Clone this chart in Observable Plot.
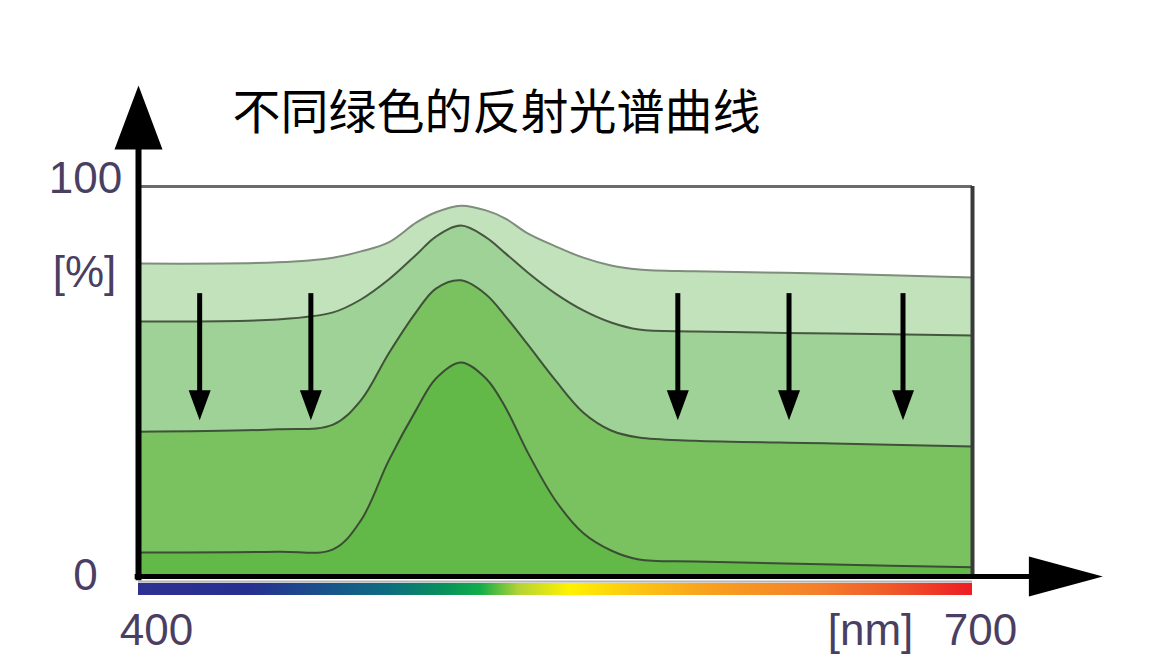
<!DOCTYPE html>
<html>
<head>
<meta charset="utf-8">
<script src="https://cdn.jsdelivr.net/npm/d3@7"></script>
<script src="https://cdn.jsdelivr.net/npm/@observablehq/plot@0.6"></script>
<style>
  html, body { margin: 0; padding: 0; background: #ffffff; }
  #chart { width: 1160px; height: 671px; }
</style>
</head>
<body>
<div id="chart"></div>
<script>
// ---- data ----
const titleText = ["不同绿色的反射光谱曲线"];
const wavelengths = [400, 450, 470, 480, 490, 500, 507, 516, 525, 532, 540, 550, 560, 570, 580, 600, 650, 700];
const curve1 = [80.3, 80.6, 81.8, 83.4, 85.7, 90.8, 93.4, 95.1, 93.9, 91.8, 88.0, 84.7, 81.8, 79.8, 78.8, 78.3, 77.7, 76.7];
const curve2 = [65.5, 66.0, 67.8, 71.1, 76.2, 82.6, 87.2, 90.0, 87.0, 82.9, 78.0, 72.6, 68.3, 65.2, 63.4, 62.9, 62.4, 61.9];
const curve3 = [37.3, 37.9, 39.1, 45.3, 57.3, 68.0, 73.9, 76.0, 72.4, 66.8, 59.6, 50.4, 42.2, 37.6, 35.8, 35.0, 34.3, 33.5];
const curve4 = [6.4, 6.6, 7.2, 14.6, 29.9, 43.0, 50.9, 55.0, 50.9, 43.5, 32.0, 19.7, 11.3, 6.9, 4.6, 4.1, 3.3, 2.6];
const curveFills = ["#c1e2bb", "#9fd296", "#7ac160", "#62b948"];
const curveStrokes = ["#7f8d7c", "#46573f", "#3f5239", "#3b4d35"];

const arrowWavelengths = [422, 462, 594, 634, 675];
const arrowFrom = 72.6;
const arrowBase = 46;
const arrowTip = 40.2;

const yTicks = [0, 100];
const xTickStart = 400;
const xTickEnd = 700;
const yAxisTop = 110;   // where the y-axis arrowhead starts (in %)
const xAxisEnd = 721;   // where the x-axis arrowhead starts (in nm)
const yUnitLabel = "[%]";
const yUnitAt = 78;
const xUnitLabel = "[nm]";

const spectrumNm = [400, 440, 465, 490, 510, 523, 537, 555, 580, 605, 645, 670, 700];
const spectrumColors = ["#2e3192", "#262f8f", "#1b4f8c", "#0d6d80", "#07915b", "#10ad4b", "#b4d334", "#fff200", "#fcc414", "#f8a11e", "#f47f2b", "#ef5b2a", "#ed1c24"];
const spectrumTop = -1.5;
const spectrumBottom = -4.6;

// ---- build table ----
const curves = [curve1, curve2, curve3, curve4];
const rows = [];
curves.forEach((c, k) => wavelengths.forEach((w, i) => rows.push({k, w, v: c[i]})));

// ---- arrowhead symbols ----
const headDown = {draw(ctx) { ctx.moveTo(0, 0); ctx.lineTo(-11, -30); ctx.lineTo(11, -30); ctx.closePath(); }};
const headUp = {draw(ctx) { ctx.moveTo(0, -62); ctx.lineTo(-24, 2); ctx.lineTo(24, 2); ctx.closePath(); }};
const headRight = {draw(ctx) { ctx.moveTo(72, 0); ctx.lineTo(-2, -20); ctx.lineTo(-2, 20); ctx.closePath(); }};

const textColor = "#4a3f63";
const font = "Liberation Sans, Arial, Helvetica, sans-serif";

const marks = [];
curves.forEach((c, k) => {
  marks.push(Plot.areaY(rows.filter(d => d.k === k), {x: "w", y1: 0, y2: "v", fill: curveFills[k], curve: "catmull-rom"}));
});
curves.forEach((c, k) => {
  marks.push(Plot.lineY(rows.filter(d => d.k === k), {x: "w", y: "v", stroke: curveStrokes[k], strokeWidth: 2, curve: "catmull-rom"}));
});
// frame top & right
marks.push(Plot.ruleY([100], {x1: xTickStart, x2: xTickEnd, stroke: "#6b6b6b", strokeWidth: 3}));
marks.push(Plot.ruleX([xTickEnd], {y1: 0, y2: 100, stroke: "#3a3a3a", strokeWidth: 4}));
// spectrum bar
marks.push(Plot.rect([{x1: xTickStart, x2: xTickEnd}], {x1: "x1", x2: "x2", y1: spectrumTop, y2: spectrumBottom, fill: "url(#spectrum)"}));
// gray line under axis
marks.push(Plot.ruleY([0], {x1: xTickStart, x2: xTickEnd, stroke: "#b5b5b5", strokeWidth: 2, dy: 4}));
// axes with arrowheads
marks.push(Plot.ruleY([0], {x1: xTickStart - 1.2, x2: xAxisEnd, stroke: "black", strokeWidth: 5, dy: -1}));
marks.push(Plot.ruleX([xTickStart], {y1: -0.8, y2: yAxisTop, stroke: "black", strokeWidth: 6}));
marks.push(Plot.dot([xAxisEnd], {x: d => d, y: 0, dy: -1, symbol: headRight, fill: "black", r: 10}));
marks.push(Plot.dot([yAxisTop], {x: xTickStart, y: d => d, symbol: headUp, fill: "black", r: 10}));
// down arrows
marks.push(Plot.ruleX(arrowWavelengths, {y1: arrowFrom, y2: arrowBase, stroke: "black", strokeWidth: 5}));
marks.push(Plot.dot(arrowWavelengths, {x: d => d, y: arrowTip, symbol: headDown, fill: "black", r: 6}));
// tick labels
marks.push(Plot.axisY({ticks: [yTicks[1]], tickSize: 0, tickPadding: 0, textAnchor: "middle", dx: -53, dy: -8, fontSize: 44, color: textColor, label: null, tickFormat: d => String(d)}));
marks.push(Plot.axisY({ticks: [yTicks[0]], tickSize: 0, tickPadding: 0, textAnchor: "middle", dx: -53, dy: -2, fontSize: 44, color: textColor, label: null, tickFormat: d => String(d)}));
marks.push(Plot.axisX({ticks: [xTickStart], tickSize: 0, tickPadding: 36, dx: 18, fontSize: 44, color: textColor, label: null, tickFormat: d => String(d)}));
marks.push(Plot.axisX({ticks: [xTickEnd], tickSize: 0, tickPadding: 36, dx: 8, fontSize: 44, color: textColor, label: null, tickFormat: d => String(d)}));
// unit labels
marks.push(Plot.text([yUnitLabel], {text: d => d, x: xTickStart, y: yUnitAt, dx: -54, textAnchor: "middle", lineAnchor: "middle", fontSize: 44, fill: textColor}));
marks.push(Plot.text([xUnitLabel], {text: d => d, x: xTickEnd, y: 0, dx: -102, dy: 36, textAnchor: "middle", lineAnchor: "top", fontSize: 44, fill: textColor}));
// title
marks.push(Plot.text(titleText, {text: d => d, frameAnchor: "top", dx: -59, dy: -58, lineAnchor: "bottom", fontSize: 48, fontFamily: "Noto Sans CJK SC", fill: "black"}));

const svg = Plot.plot({
  width: 1160,
  height: 671,
  marginLeft: 138,
  marginRight: 188,
  marginTop: 186,
  marginBottom: 94,
  x: {domain: [xTickStart, xTickEnd]},
  y: {domain: [yTicks[0], yTicks[1]]},
  style: {fontFamily: font, background: "#ffffff", overflow: "visible"},
  marks
});

// gradient definition for the spectrum bar
const defs = d3.select(svg).insert("defs", ":first-child");
const grad = defs.append("linearGradient").attr("id", "spectrum").attr("x1", "0").attr("x2", "1").attr("y1", "0").attr("y2", "0");
spectrumNm.forEach((nm, i) => {
  grad.append("stop").attr("offset", (nm - xTickStart) / (xTickEnd - xTickStart)).attr("stop-color", spectrumColors[i]);
});

document.getElementById("chart").appendChild(svg);
</script>
</body>
</html>
